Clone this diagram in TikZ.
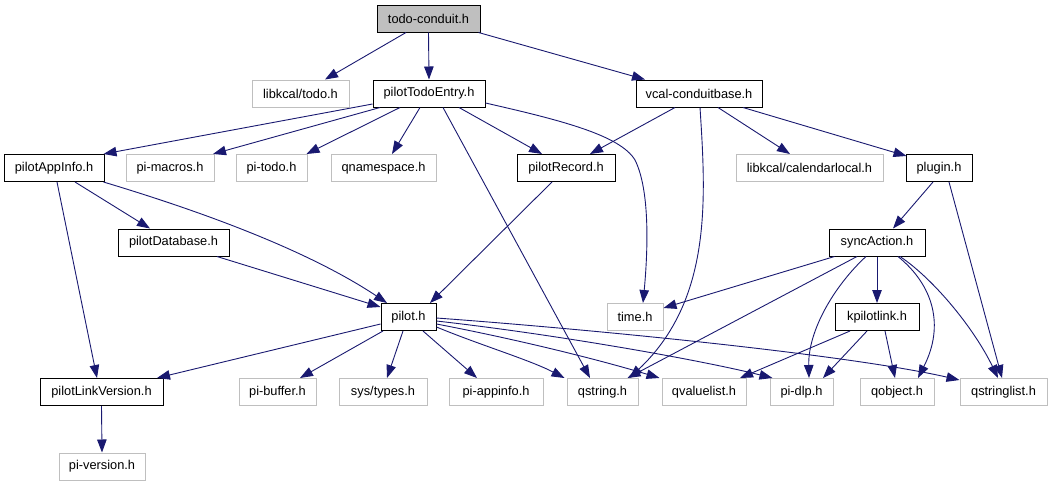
\documentclass[tikz,border=0pt]{standalone}
\usepackage{fontspec}
\setmainfont{Liberation Sans}
\usetikzlibrary{arrows.meta}
\definecolor{edgeblue}{HTML}{191970}
\definecolor{greyb}{HTML}{BFBFBF}
\begin{document}
\begin{tikzpicture}[x=1pt,y=-1pt,
  box/.style={draw=black,line width=1pt,inner sep=0pt,minimum height=27pt,font=\fontsize{12.8}{14}\selectfont},
  ext/.style={box,draw=greyb},
  root/.style={box,fill=greyb},
  dep/.style={draw=edgeblue,line width=0.9pt,-{Triangle[length=13pt,width=9.5pt]}}]
\useasboundingbox (0,0) rectangle (1060,485);
% nodes
\node[root,minimum width=103pt] (todo) at (428.5,18.5) {todo-conduit.h};
\node[ext,minimum width=97pt] (libtodo) at (300.5,93.5) {libkcal/todo.h};
\node[box,minimum width=112pt] (pte) at (429,93.5) {pilotTodoEntry.h};
\node[box,minimum width=126pt] (vcal) at (699,93.5) {vcal-conduitbase.h};
\node[box,minimum width=100pt] (pai) at (54,168) {pilotAppInfo.h};
\node[ext,minimum width=88pt] (pimac) at (170,168) {pi-macros.h};
\node[ext,minimum width=71pt] (pitodo) at (271.5,168) {pi-todo.h};
\node[ext,minimum width=105pt] (qns) at (383.5,168) {qnamespace.h};
\node[box,minimum width=98pt] (prec) at (566,168) {pilotRecord.h};
\node[ext,minimum width=147pt] (calloc) at (809.5,168) {libkcal/calendarlocal.h};
\node[box,minimum width=66pt] (plugin) at (939,168) {plugin.h};
\node[box,minimum width=111pt] (pdb) at (173.5,242.5) {pilotDatabase.h};
\node[box,minimum width=96pt] (sync) at (877,242.5) {syncAction.h};
\node[box,minimum width=55pt] (pilot) at (408.5,317) {pilot.h};
\node[ext,minimum width=56pt] (time) at (635,317) {time.h};
\node[box,minimum width=84pt] (kpl) at (877,317) {kpilotlink.h};
\node[box,minimum width=123pt] (plv) at (101.5,392) {pilotLinkVersion.h};
\node[ext,minimum width=77pt] (pibuf) at (277.5,392) {pi-buffer.h};
\node[ext,minimum width=88pt] (systypes) at (383,392) {sys/types.h};
\node[ext,minimum width=94pt] (piapp) at (496,392) {pi-appinfo.h};
\node[ext,minimum width=71pt] (qstring) at (602.5,392) {qstring.h};
\node[ext,minimum width=84pt] (qvl) at (704,392) {qvaluelist.h};
\node[ext,minimum width=63pt] (pidlp) at (801.5,392) {pi-dlp.h};
\node[ext,minimum width=74pt] (qobj) at (897,392) {qobject.h};
\node[ext,minimum width=87pt] (qsl) at (1003.5,392) {qstringlist.h};
\node[ext,minimum width=86pt] (piver) at (102,466.5) {pi-version.h};
% edges
\draw[dep] ([xshift=-22.5pt]todo.south) -- ([xshift=24.5pt]libtodo.north);
\draw[dep] (todo.south) -- (pte.north);
\draw[dep] ([xshift=-2pt]todo.south east) -- ([xshift=-54pt]vcal.north);
\draw[dep] ([yshift=-10.5pt]pte.west) -- ([xshift=-1pt]pai.north east);
\draw[dep] ([xshift=-49pt]pte.south) -- ([xshift=43pt]pimac.north);
\draw[dep] ([xshift=-29pt]pte.south) -- ([xshift=35pt]pitodo.north);
\draw[dep] ([xshift=-9pt]pte.south) -- ([xshift=8.5pt]qns.north);
\draw[dep] ([xshift=30pt]pte.south) -- ([xshift=-24pt]prec.north);
\draw[dep] ([xshift=14pt]pte.south) -- ([xshift=-12.5pt]qstring.north);
\draw[dep] ([yshift=-9.5pt]pte.east) .. controls (560,120) and (620,135) .. (635,160)
  .. controls (650,190) and (648,250) .. ([xshift=8pt]time.north);
\draw[dep] ([xshift=-24pt]vcal.south) -- ([xshift=24pt]prec.north);
\draw[dep] ([xshift=1pt]vcal.south) .. controls (706,200) and (712,300) .. ([xshift=27pt]qstring.north);
\draw[dep] ([xshift=19pt]vcal.south) -- ([xshift=-19.5pt]calloc.north);
\draw[dep] ([xshift=44pt]vcal.south) -- ([xshift=1pt,yshift=-2pt]plugin.north west);
\draw[dep] ([xshift=21pt]pai.south) -- ([xshift=-23.5pt]pdb.north);
\draw[dep] ([xshift=-1pt]pai.south east) .. controls (180,205) and (300,245) .. ([xshift=-21.5pt]pilot.north);
\draw[dep] ([xshift=3pt]pai.south) -- ([xshift=-4.5pt]plv.north);
\draw[dep] ([xshift=43.5pt]pdb.south) -- ([yshift=-4pt]pilot.north west);
\draw[dep] ([xshift=-14pt]prec.south) -- ([xshift=21.5pt]pilot.north);
\draw[dep] ([xshift=-6pt]plugin.south) -- ([xshift=16pt]sync.north);
\draw[dep] ([xshift=10pt]plugin.south) -- ([xshift=-1.5pt]qsl.north);
\draw[dep] ([xshift=6pt]sync.south west) -- ([yshift=-5pt]time.north east);
\draw[dep] ([xshift=-20pt]sync.south) -- ([xshift=25pt]qstring.north);
\draw[dep] ([xshift=-11pt]sync.south) .. controls (835,285) and (808,330) .. ([xshift=7.5pt]pidlp.north);
\draw[dep] (sync.south) -- (kpl.north);
\draw[dep] ([xshift=21pt]sync.south) .. controls (933,285) and (945,325) .. ([xshift=21pt]qobj.north);
\draw[dep] ([xshift=23pt]sync.south) .. controls (935,280) and (975,330) .. ([xshift=-5.5pt]qsl.north);
\draw[dep] ([xshift=-27pt]kpl.south) -- ([xshift=36pt]qvl.north);
\draw[dep] ([xshift=-10pt]kpl.south) -- ([xshift=21.5pt]pidlp.north);
\draw[dep] ([xshift=8pt]kpl.south) -- ([xshift=-2pt]qobj.north);
\draw[dep] ([yshift=-7pt]pilot.west) -- ([xshift=55.5pt]plv.north);
\draw[dep] ([xshift=-25.5pt]pilot.south) -- ([xshift=22.5pt]pibuf.north);
\draw[dep] ([xshift=-5.5pt]pilot.south) -- ([xshift=4pt]systypes.north);
\draw[dep] ([xshift=14.5pt]pilot.south) -- ([xshift=-19pt]piapp.north);
\draw[dep] ([yshift=-10pt]pilot.east) .. controls (480,345) and (530,360) .. ([xshift=-2pt]qstring.north west);
\draw[dep] ([yshift=-7pt]pilot.east) .. controls (520,340) and (600,360) .. ([xshift=-2pt]qvl.north west);
\draw[dep] ([yshift=-4pt]pilot.east) .. controls (560,335) and (700,360) .. ([xshift=3pt]pidlp.north west);
\draw[dep] ([yshift=-1pt]pilot.east) .. controls (600,330) and (850,355) .. ([yshift=-2pt]qsl.north west);
\draw[dep] (plv.south) -- (piver.north);
\end{tikzpicture}
\end{document}
